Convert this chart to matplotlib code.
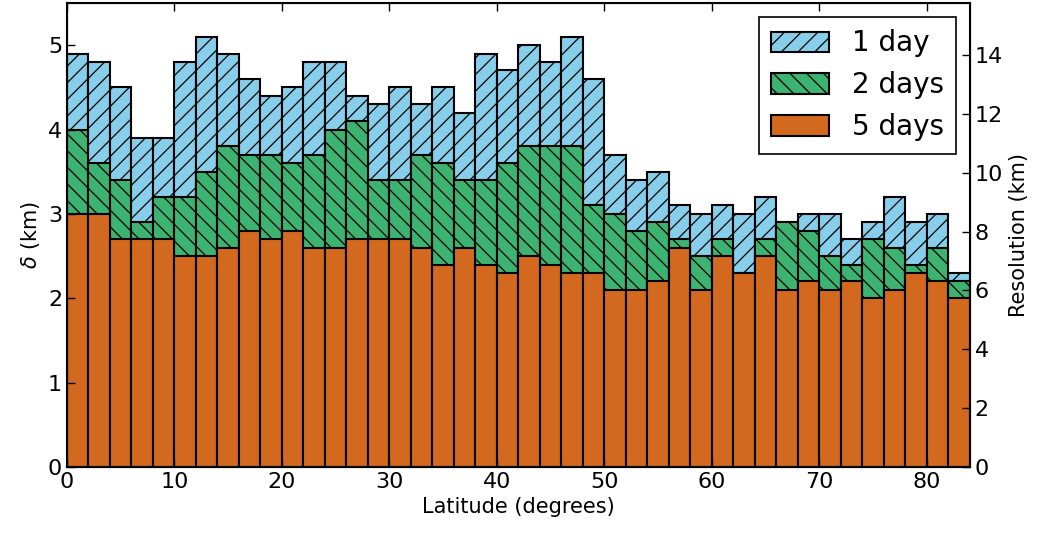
import numpy as np
import matplotlib
matplotlib.use("Agg")
import matplotlib.pyplot as plt

# latitude bins (left edges, 2 degree wide)
lat = np.arange(0, 84, 2)

delta_1day = [4.9, 4.8, 4.5, 3.9, 3.9, 4.8, 5.1, 4.9, 4.6, 4.4,
              4.5, 4.8, 4.8, 4.4, 4.3, 4.5, 4.3, 4.5, 4.2, 4.9,
              4.7, 5.0, 4.8, 5.1, 4.6, 3.7, 3.4, 3.5, 3.1, 3.0,
              3.1, 3.0, 3.2, 2.9, 3.0, 3.0, 2.7, 2.9, 3.2, 2.9,
              3.0, 2.3]
delta_2day = [4.0, 3.6, 3.4, 2.9, 3.2, 3.2, 3.5, 3.8, 3.7, 3.7,
              3.6, 3.7, 4.0, 4.1, 3.4, 3.4, 3.7, 3.6, 3.4, 3.4,
              3.6, 3.8, 3.8, 3.8, 3.1, 3.0, 2.8, 2.9, 2.7, 2.5,
              2.7, 2.3, 2.7, 2.9, 2.8, 2.5, 2.4, 2.7, 2.6, 2.4,
              2.6, 2.2]
delta_5day = [3.0, 3.0, 2.7, 2.7, 2.7, 2.5, 2.5, 2.6, 2.8, 2.7,
              2.8, 2.6, 2.6, 2.7, 2.7, 2.7, 2.6, 2.4, 2.6, 2.4,
              2.3, 2.5, 2.4, 2.3, 2.3, 2.1, 2.1, 2.2, 2.6, 2.1,
              2.5, 2.3, 2.5, 2.1, 2.2, 2.1, 2.2, 2.0, 2.1, 2.3,
              2.2, 2.0]

plt.rcParams['xtick.direction'] = 'in'
plt.rcParams['ytick.direction'] = 'in'
plt.rcParams['xtick.top'] = True
plt.rcParams['hatch.linewidth'] = 0.9
plt.rcParams['mathtext.fontset'] = 'dejavusans'

fig = plt.figure(figsize=(10.43, 5.36), dpi=100)
ax = fig.add_axes([0.0642, 0.1287, 0.8658, 0.8657])

ax.bar(lat, delta_1day, width=2, align='edge', color='#87CEEB',
       edgecolor='black', linewidth=1.5, hatch='//', label='1 day')
ax.bar(lat, delta_2day, width=2, align='edge', color='#3CB371',
       edgecolor='black', linewidth=1.5, hatch='\\\\', label='2 days')
ax.bar(lat, delta_5day, width=2, align='edge', color='#D2691E',
       edgecolor='black', linewidth=1.5, label='5 days')

ax.set_xlim(0, 84)
ax.set_ylim(0, 5.5)
ax.set_xlabel("Latitude (degrees)", fontsize=15)
ax.set_ylabel(r"$\delta$ (km)", fontsize=15)
ax.tick_params(labelsize=16, length=6, width=1)
for s in ax.spines.values():
    s.set_linewidth(1.5)

ax2 = ax.twinx()
ax2.set_ylim(0, 15.77)
ax2.set_yticks(np.arange(0, 15, 2))
ax2.set_ylabel("Resolution (km)", fontsize=15)
ax2.tick_params(labelsize=16, length=6, width=1, direction='in')

leg = ax.legend(loc='upper right', fontsize=20, fancybox=False,
                edgecolor='black', framealpha=1, handlelength=2.1,
                handleheight=0.75, handletextpad=0.8, borderpad=0.45,
                labelspacing=0.5, borderaxespad=0.5)
leg.get_frame().set_linewidth(1.2)

fig.savefig("out.png", dpi=100)
